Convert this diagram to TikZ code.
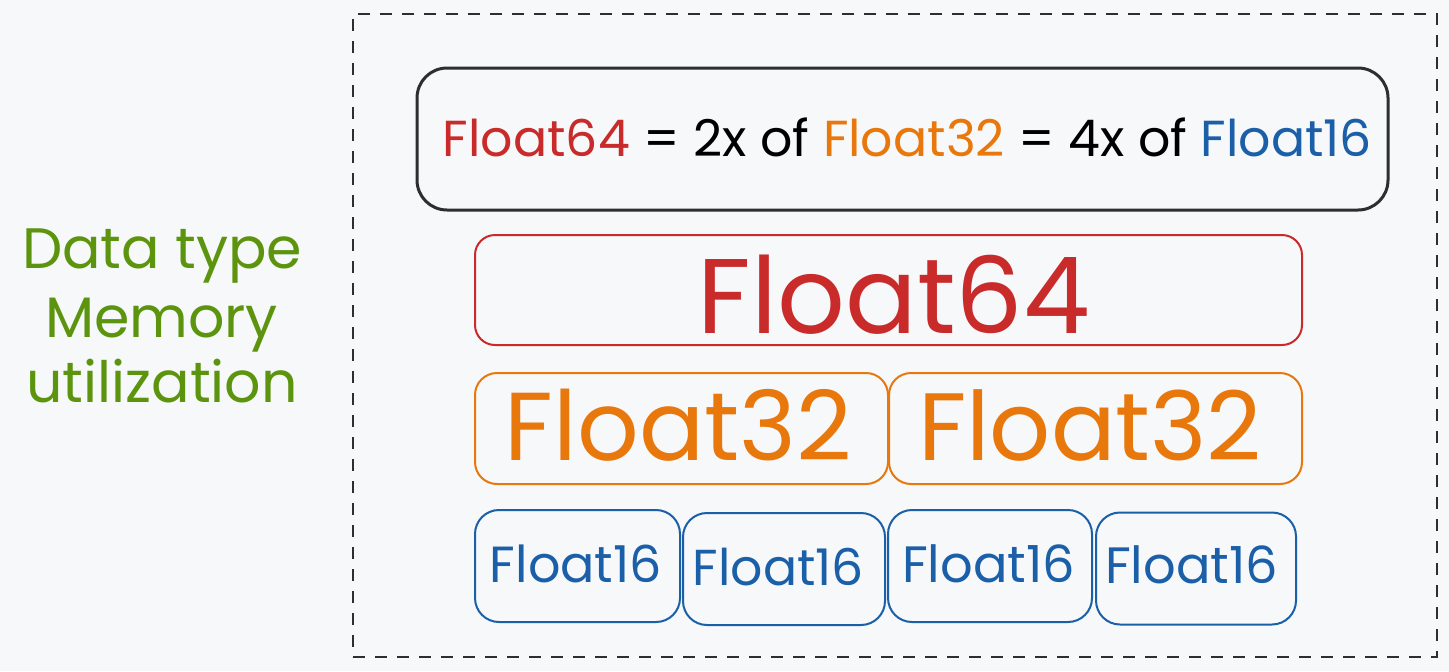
\documentclass[tikz,border=0pt]{standalone}
\usepackage{fontspec}
\setmainfont{Poppins}
\usepackage{graphicx}
\definecolor{bgc}{HTML}{F6F8FA}
\definecolor{redc}{HTML}{C92A2A}
\definecolor{orangec}{HTML}{E8770C}
\definecolor{bluec}{HTML}{1A5FA8}
\definecolor{greenc}{HTML}{5C940D}
\definecolor{darkc}{HTML}{2E2E2E}
\begin{document}
\begin{tikzpicture}[x=0.5pt,y=-0.5pt,
  cell/.style={draw, rectangle, inner sep=0pt, line width=1pt},
  lbl/.style={inner sep=0pt, anchor=base},
  redbox/.style={cell, draw=redc, rounded corners=10pt},
  orangebox/.style={cell, draw=orangec, rounded corners=11pt},
  bluebox/.style={cell, draw=bluec, rounded corners=12pt},
]
\fill[bgc] (0,0) rectangle (1449,671);
\useasboundingbox (0,0) rectangle (1449,671);
% dashed frame
\node[draw=darkc, line width=1pt, dash pattern=on 6pt off 5pt, minimum width=542pt, minimum height=321.5pt, inner sep=0pt] (frame) at (895,335.5) {};
% top formula box
\node[cell, draw=darkc, line width=1.5pt, rounded corners=15pt, minimum width=485.5pt, minimum height=71pt] (top) at (902.5,139) {};
\node[lbl] (toptext) at (907.5,156) {\resizebox{464.5pt}{!}{\textcolor{redc}{Float64} = 2x of \textcolor{orangec}{Float32} = 4x of \textcolor{bluec}{Float16}}};
% Float64
\node[redbox, minimum width=413.5pt, minimum height=55pt] (f64) at (888.5,290) {};
\node[lbl, text=redc] (f64t) at (894,333) {\resizebox{196pt}{!}{Float64}};
% Float32
\node[orangebox, minimum width=206.5pt, minimum height=55.5pt] (f32a) at (681.5,428.5) {};
\node[orangebox, minimum width=206.5pt, minimum height=55.5pt] (f32b) at (1095.5,428.5) {};
\node[lbl, text=orangec] (f32at) at (678.5,460) {\resizebox{173.5pt}{!}{Float32}};
\node[lbl, text=orangec] (f32bt) at (1090,460) {\resizebox{172pt}{!}{Float32}};
% Float16
\node[bluebox, minimum width=102.5pt, minimum height=56pt] (f16a) at (577.5,566) {};
\node[bluebox, minimum width=101pt, minimum height=56pt] (f16b) at (784,569) {};
\node[bluebox, minimum width=102pt, minimum height=56pt] (f16c) at (990,566) {};
\node[bluebox, minimum width=100pt, minimum height=56pt] (f16d) at (1196,568.5) {};
\node[lbl, text=bluec] (f16at) at (576,582) {\resizebox{86pt}{!}{Float16}};
\node[lbl, text=bluec] (f16bt) at (778.5,585) {\resizebox{85.5pt}{!}{Float16}};
\node[lbl, text=bluec] (f16ct) at (988.5,582) {\resizebox{86.5pt}{!}{Float16}};
\node[lbl, text=bluec] (f16dt) at (1191.5,583) {\resizebox{86.5pt}{!}{Float16}};
% green label, one common size
\pgfmathsetmacro\gscale{140/width("Data type")}
\node[lbl, text=greenc] (g1) at (162,268) {\scalebox{\gscale}{Data type}};
\node[lbl, text=greenc] (g2) at (161.5,337) {\scalebox{\gscale}{Memory}};
\node[lbl, text=greenc] (g3) at (162,402) {\scalebox{\gscale}{utilization}};
\end{tikzpicture}
\end{document}
